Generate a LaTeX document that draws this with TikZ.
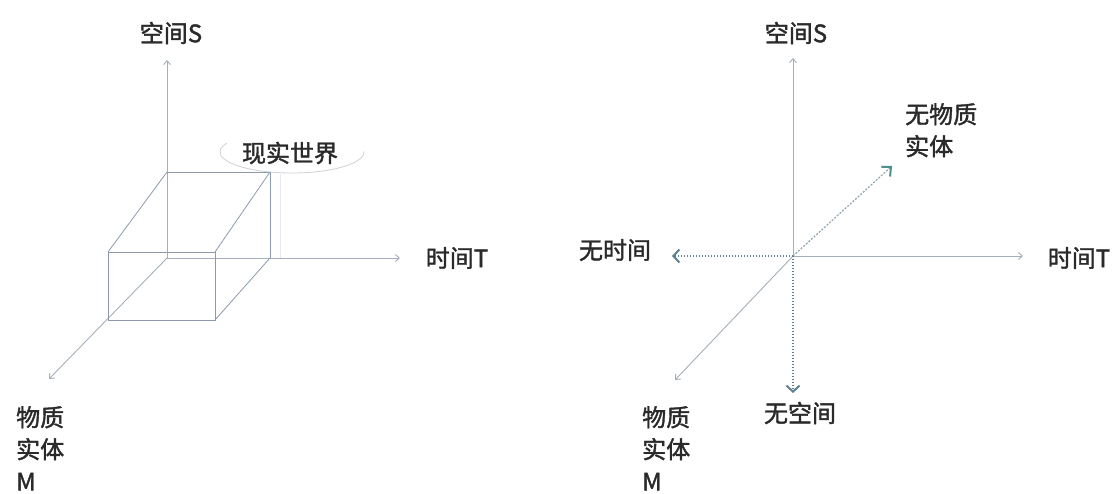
\documentclass[tikz,border=0pt]{standalone}
\usepackage{fontspec}
\setmainfont{Noto Sans CJK SC}[FakeBold=1.6]
\usetikzlibrary{arrows.meta}
\definecolor{axisc}{HTML}{A3AFBA}
\definecolor{boxc}{HTML}{8D9AAD}
\definecolor{dotc}{HTML}{5F8090}
\definecolor{nmc}{HTML}{8FA5AF}
\definecolor{tipc}{HTML}{4F8F8C}
\definecolor{txt}{HTML}{2A2A2A}
\definecolor{bubc}{HTML}{CDD0D4}
\definecolor{shadc}{HTML}{E6EAF0}
\begin{document}
\begin{tikzpicture}[x=1pt,y=1pt,
  axis/.style={draw=axisc,line width=0.9pt,-{Straight Barb[length=4pt,width=7pt]}},
  boxline/.style={draw=boxc,line width=0.8pt},
  negaxis/.style={draw=dotc,line width=2pt,dash pattern=on 1.4pt off 1.6pt,-{Straight Barb[length=6pt,width=13pt,line width=2pt]}},
  nmaxis/.style={draw=nmc,line width=1.2pt,dash pattern=on 2pt off 1.5pt,-{Straight Barb[length=7pt,width=13pt,line width=2pt,color=tipc]}},
  lbl/.style={font=\fontsize{24}{32}\selectfont,text=txt,inner sep=0pt}]
\useasboundingbox (0,0) rectangle (1119,-493);

% ---------- left diagram ----------
\coordinate (O1) at (167,-258);
\coordinate (S1) at (167,-60);
\coordinate (T1) at (400,-258);
\coordinate (M1) at (49,-379);
\coordinate (b1) at (167,-172);
\coordinate (b2) at (270,-172);
\coordinate (b3) at (270,-258);
\coordinate (f1) at (108,-252);
\coordinate (f2) at (215,-252);
\coordinate (f3) at (215,-320);
\coordinate (f4) at (108,-320);
\coordinate (sh1) at (280,-174);
\coordinate (sh2) at (280,-258);

\draw[shadc,line width=0.8pt] (sh1) -- (sh2);
\draw[axis] (O1) -- (S1);
\draw[axis] (O1) -- (T1);
\draw[axis] (O1) -- (M1);
\draw[boxline] (b1) -- (b2) -- (b3);
\draw[boxline] (b1) -- (f1);
\draw[boxline] (b2) -- (f2);
\draw[boxline] (b3) -- (f3);
\draw[boxline] (f1) -- (f2) -- (f3) -- (f4) -- cycle;

\node[lbl] (s1lbl) at (171,-33) {空间S};
\node[lbl] (t1lbl) at (457,-258) {时间T};
\node[lbl,align=left,anchor=north west] (m1lbl) at (16,-406) {物质\\实体\\M};
\node[lbl] (world) at (290,-153) {现实世界};
\coordinate (bubc) at (292,-152);
\draw[bubc,line width=0.8pt] (bubc) ++(155:72pt and 21pt) arc[start angle=155,end angle=362,x radius=72pt,y radius=21pt];

% ---------- right diagram ----------
\coordinate (O2) at (793,-256);
\coordinate (S2) at (793,-58);
\coordinate (T2) at (1023,-256);
\coordinate (M2) at (675,-380);
\coordinate (NT) at (672,-256);
\coordinate (NS) at (793,-393);
\coordinate (NM) at (892,-166);

\draw[axis] (O2) -- (S2);
\draw[axis] (O2) -- (T2);
\draw[axis] (O2) -- (M2);
\draw[nmaxis] (O2) -- (NM);
\draw[negaxis] (O2) -- (NT);
\draw[negaxis] (O2) -- (NS);

\node[lbl] (s2lbl) at (796,-33) {空间S};
\node[lbl] (t2lbl) at (1079,-258) {时间T};
\node[lbl] (ntlbl) at (615,-250) {无时间};
\node[lbl] (nslbl) at (800,-413) {无空间};
\node[lbl,align=left,anchor=north west] (nmlbl) at (905,-103) {无物质\\实体};
\node[lbl,align=left,anchor=north west] (m2lbl) at (642,-406) {物质\\实体\\M};
\end{tikzpicture}
\end{document}
